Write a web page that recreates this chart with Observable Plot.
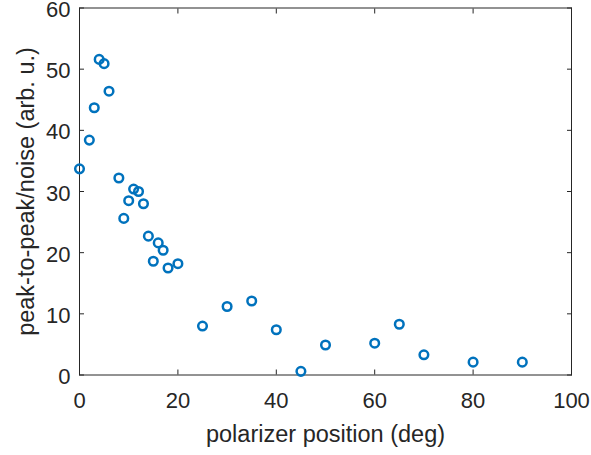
<!DOCTYPE html>
<html>
<head>
<meta charset="utf-8">
<script src="https://cdn.jsdelivr.net/npm/d3@7"></script>
<script src="https://cdn.jsdelivr.net/npm/@observablehq/plot@0.6"></script>
<style>
  html, body { margin: 0; padding: 0; background: white; }
</style>
</head>
<body>
<div id="chart"></div>
<script>
const xValues = [0, 2, 3, 4, 5, 6, 8, 9, 10, 11, 12, 13, 14, 15, 16, 17, 18, 20, 25, 30, 35, 40, 45, 50, 60, 65, 70, 80, 90];
const yValues = [33.7, 38.4, 43.7, 51.6, 50.9, 46.4, 32.2, 25.6, 28.5, 30.4, 30.0, 28.0, 22.7, 18.6, 21.6, 20.4, 17.5, 18.2, 8.0, 11.2, 12.1, 7.4, 0.6, 4.9, 5.2, 8.3, 3.3, 2.1, 2.1];
const xTicks = [0, 20, 40, 60, 80, 100];
const yTicks = [0, 10, 20, 30, 40, 50, 60];
const xLabel = "polarizer position (deg)";
const yLabel = "peak-to-peak/noise (arb. u.)";

const data = xValues.map((x, i) => ({x, y: yValues[i]}));
const ink = "#262626";

const chart = Plot.plot({
  width: 591,
  height: 455,
  marginLeft: 79,
  marginRight: 20,
  marginTop: 7.5,
  marginBottom: 80.5,
  x: {domain: [0, 100]},
  y: {domain: [0, 60]},
  style: {fontFamily: "'Liberation Sans', Arial, sans-serif", fontSize: "22px", color: ink, background: "white"},
  marks: [
    Plot.axisX(xTicks, {anchor: "bottom", tickSize: -5, tickPadding: 22.5, label: null, stroke: ink, fill: ink}),
    Plot.axisX(xTicks, {anchor: "top", tickSize: -5, tickFormat: () => "", label: null, stroke: ink}),
    Plot.axisY(yTicks, {anchor: "left", tickSize: -5, tickFormat: () => "", label: null, stroke: ink}),
    Plot.axisY(yTicks, {anchor: "left", tickSize: 0, tickPadding: 9, dy: 2, label: null, fill: ink}),
    Plot.axisY(yTicks, {anchor: "right", tickSize: -5, tickFormat: () => "", label: null, stroke: ink}),
    Plot.frame({stroke: ink, strokeWidth: 1}),
    Plot.dot(data, {x: "x", y: "y", r: 4.3, stroke: "#0072BD", strokeWidth: 2.5, fill: "none"}),
    Plot.text([xLabel], {text: d => d, frameAnchor: "bottom", dy: 67, lineAnchor: "bottom", fontSize: 23.5, fill: ink}),
    Plot.text([yLabel], {text: d => d, frameAnchor: "left", dx: -45.5, rotate: -90, textAnchor: "middle", lineAnchor: "bottom", fontSize: 23.5, fill: ink})
  ]
});
document.getElementById("chart").appendChild(chart);
</script>
</body>
</html>
